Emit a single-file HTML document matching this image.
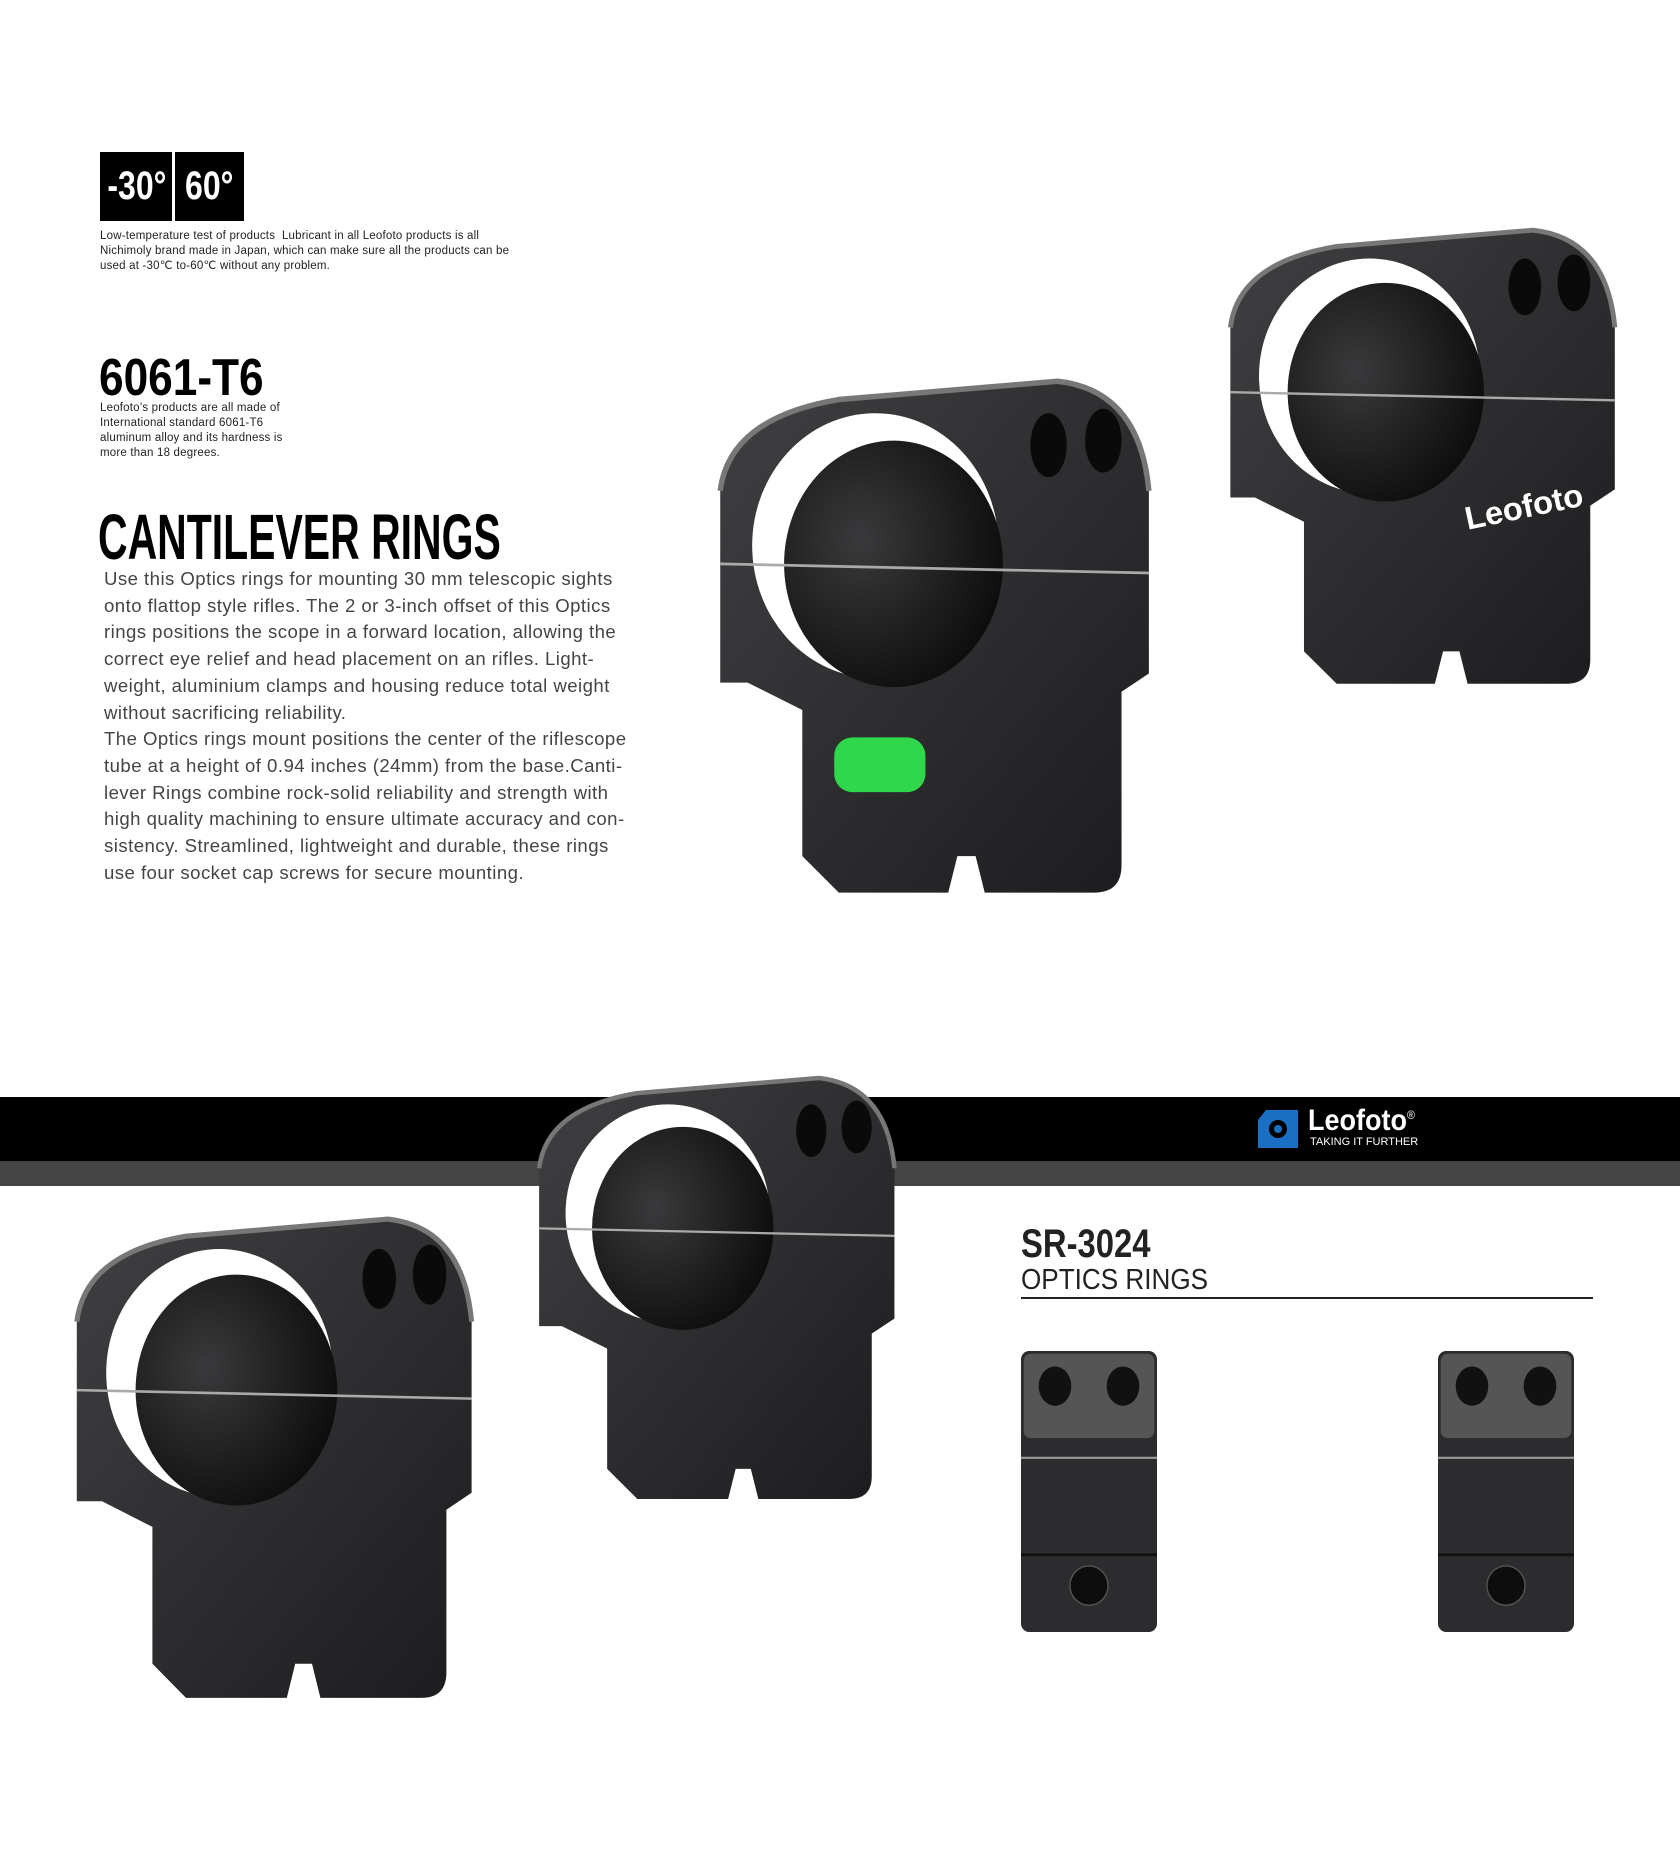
<!DOCTYPE html>
<html><head><meta charset="utf-8"><style>
body{margin:0;width:1680px;height:1867px;background:#fff;position:relative;overflow:hidden;font-family:"Liberation Sans",sans-serif}
.a{position:absolute}
.cond{font-family:"Liberation Sans Narrow","Liberation Sans",sans-serif;font-weight:bold;transform-origin:0 0}
.tb{position:absolute;top:152px;height:69px;background:#000;color:#fff;font-size:40px;line-height:69px;text-align:center}
.small{font-size:11.5px;line-height:15px;color:#222}
.para{left:104px;top:566px;font-size:18.6px;line-height:26.7px;color:#444;letter-spacing:.45px;white-space:nowrap}
</style></head><body>
<div class="tb" style="left:100px;width:72px"><span class="cond" style="display:inline-block;transform:scaleX(.8);transform-origin:50% 50%">-30°</span></div>
<div class="tb" style="left:175px;width:69px"><span class="cond" style="display:inline-block;transform:scaleX(.8);transform-origin:50% 50%">60°</span></div>
<div class="a small" style="left:100px;top:229px;width:470px;letter-spacing:.2px">Low-temperature test of products&nbsp; Lubricant in all Leofoto products is all<br>Nichimoly brand made in Japan, which can make sure all the products can be<br>used at -30℃ to-60℃ without any problem.</div>
<div class="a cond" style="left:99px;top:348px;font-size:52px;transform:scaleX(.85)">6061-T6</div>
<div class="a small" style="left:100px;top:401px;width:230px;letter-spacing:.2px">Leofoto’s products are all made of<br>International standard 6061-T6<br>aluminum alloy and its hardness is<br>more than 18 degrees.</div>
<div class="a cond" style="left:98px;top:500px;font-size:64px;transform:scaleX(.64);white-space:nowrap">CANTILEVER RINGS</div>
<div class="a para">Use this Optics rings for mounting 30 mm telescopic sights<br>onto flattop style rifles. The 2 or 3-inch offset of this Optics<br>rings positions the scope in a forward location, allowing the<br>correct eye relief and head placement on an rifles. Light-<br>weight, aluminium clamps and housing reduce total weight<br>without sacrificing reliability.<br>The Optics rings mount positions the center of the riflescope<br>tube at a height of 0.94 inches (24mm) from the base.Canti-<br>lever Rings combine rock-solid reliability and strength with<br>high quality machining to ensure ultimate accuracy and con-<br>sistency. Streamlined, lightweight and durable, these rings<br>use four socket cap screws for secure mounting.</div>

<div class="a" style="left:0;top:1097px;width:1680px;height:64px;background:#000"></div>
<div class="a" style="left:0;top:1161px;width:1680px;height:25px;background:#444"></div>
<svg class="a" style="left:1258px;top:1110px" width="40" height="38" viewBox="0 0 40 38"><path d="M8 0H40V38H0V10Z" fill="#1a6fc4"/><circle cx="20" cy="19" r="9" fill="#000"/><circle cx="20" cy="19" r="4" fill="#1a6fc4"/></svg>
<div class="a cond" style="left:1308px;top:1104px;font-size:30px;color:#fff;transform:scaleX(.9)">Leofoto<sup style="font-size:12px;font-weight:normal">®</sup></div>
<div class="a" style="left:1310px;top:1136px;font-size:11px;color:#fff">TAKING IT FURTHER</div>

<div class="a cond" style="left:1021px;top:1222px;font-size:40px;color:#222;transform:scaleX(.82)">SR-3024</div>
<div class="a" style="left:1021px;top:1264px;font-size:29px;color:#222;transform:scaleX(.9);transform-origin:0 0">OPTICS RINGS</div>
<div class="a" style="left:1021px;top:1297px;width:572px;height:2px;background:#222"></div>

<svg width="0" height="0" style="position:absolute"><defs>
<linearGradient id="g" x1="0" y1="0" x2="1" y2="1"><stop offset="0" stop-color="#404042"/><stop offset="1" stop-color="#1c1c1e"/></linearGradient>
<radialGradient id="h" cx=".35" cy=".4" r=".7"><stop offset="0" stop-color="#3a3a3c"/><stop offset="1" stop-color="#0c0c0d"/></radialGradient>
<g id="ring">
<path d="M4 28Q6 12 30 8L78 4Q96 6 98 28V68L92 72V110Q92 116 86 116H62L60 108H56L54 116H30L22 108V76L10 70H4Z" fill="url(#g)"/>
<path d="M4 28Q6 12 30 8L78 4Q96 6 98 28" fill="none" stroke="#777" stroke-width="1.2"/>
<ellipse cx="38" cy="40" rx="27" ry="29" fill="#fff"/>
<ellipse cx="42" cy="44" rx="24" ry="27" fill="url(#h)"/>
<ellipse cx="76" cy="18" rx="4" ry="7" fill="#0a0a0a"/><ellipse cx="88" cy="17" rx="4" ry="7" fill="#0a0a0a"/>
<line x1="4" y1="44" x2="98" y2="46" stroke="#aaa" stroke-width=".6"/>
</g>
<g id="front">
<rect x="0" y="0" width="100" height="200" rx="6" fill="#2c2c2e"/>
<rect x="2" y="2" width="96" height="60" rx="5" fill="#555"/>
<ellipse cx="25" cy="25" rx="12" ry="14" fill="#111"/><ellipse cx="75" cy="25" rx="12" ry="14" fill="#111"/>
<line x1="0" y1="76" x2="100" y2="76" stroke="#999" stroke-width="1.5"/>
<line x1="0" y1="145" x2="100" y2="145" stroke="#111" stroke-width="2"/>
<circle cx="50" cy="167" r="14" fill="#0d0d0d" stroke="#555"/>
</g>
</defs></svg>

<svg class="a" style="left:702px;top:363px" width="456" height="557" viewBox="0 0 100 122" preserveAspectRatio="none"><use href="#ring"/><rect x="29" y="82" width="20" height="12" rx="4" fill="#2fd84a"/></svg>
<svg class="a" style="left:1214px;top:214px" width="409" height="486" viewBox="0 0 100 120" preserveAspectRatio="none"><use href="#ring"/><text x="62" y="78" font-size="8" fill="#fff" font-family="Liberation Sans" font-weight="bold" transform="rotate(-12 62 78)">Leofoto</text></svg>
<svg class="a" style="left:524px;top:1063px" width="378" height="451" viewBox="0 0 100 120" preserveAspectRatio="none"><use href="#ring"/></svg>
<svg class="a" style="left:60px;top:1202px" width="420" height="513" viewBox="0 0 100 120" preserveAspectRatio="none"><use href="#ring"/></svg>
<svg class="a" style="left:1021px;top:1351px" width="136" height="281" viewBox="0 0 100 200" preserveAspectRatio="none"><use href="#front"/></svg>
<svg class="a" style="left:1438px;top:1351px" width="136" height="281" viewBox="0 0 100 200" preserveAspectRatio="none"><use href="#front"/></svg>
</body></html>
